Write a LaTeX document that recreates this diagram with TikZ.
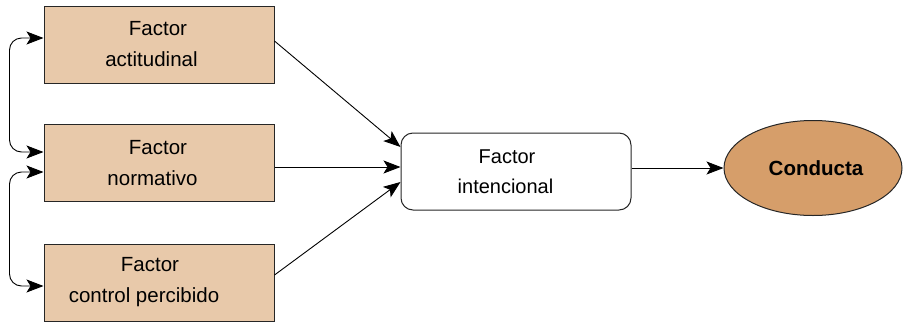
\documentclass[tikz,border=0pt]{standalone}
\usepackage{fontspec}
\setmainfont{Liberation Sans}
\usetikzlibrary{arrows.meta,shapes.geometric}
\definecolor{tan}{RGB}{232,201,170}
\definecolor{ellfill}{RGB}{214,158,106}
\newcommand{\lsh}[2]{#1\hspace*{#2}}
\begin{document}
\begin{tikzpicture}[x=1pt,y=-1pt,
  >={Stealth[length=17pt,width=13pt,inset=4pt]},
  fbox/.style={draw=black!85,line width=1pt,fill=tan,minimum width=230pt,minimum height=77pt,inner sep=0pt,align=center,font=\fontsize{20.5}{31}\selectfont},
  ibox/.style={draw=black!85,line width=1pt,fill=white,rounded corners=12pt,minimum width=230pt,minimum height=77pt,inner sep=0pt,align=center,font=\fontsize{20}{30}\selectfont},
  ellnode/.style={draw=black!85,line width=1pt,fill=ellfill,ellipse,minimum width=178pt,minimum height=95pt,inner sep=0pt,font=\fontsize{20.5}{24}\selectfont\bfseries},
  arr/.style={line width=0.9pt,->},
  darr/.style={line width=0.9pt,rounded corners=12pt,<->}]
\useasboundingbox (0,0) rectangle (903,322);
\node[fbox] (a) at (159,44.5) {\lsh{Factor}{2pt}\\\lsh{actitudinal}{15pt}};
\node[fbox] (n) at (159,163) {\lsh{Factor}{2pt}\\\lsh{normativo}{13pt}};
\node[fbox] (c) at (159,282.5) {\lsh{Factor}{18pt}\\\lsh{control percibido}{30pt}};
\node[ibox] (i) at (516,171.5) {\lsh{Factor}{18pt}\\\lsh{intencional}{21pt}};
\node[ellnode] (k) at (813,168) {\hspace*{6pt}Conducta};
\coordinate (ia) at ([yshift=24.5pt]i.west);
\coordinate (in) at ([yshift=4.5pt]i.west);
\coordinate (ic) at ([yshift=-10.5pt]i.west);
\draw[arr] ([yshift=3.5pt]a.east) -- (ia);
\draw[arr] ([yshift=-4pt]n.east) -- (in);
\draw[arr] ([yshift=7.5pt]c.east) -- (ic);
\draw[arr] ([yshift=3.5pt]i.east) -- (k.west);
\draw[darr] ([yshift=6.5pt]a.west) -- ++(-34,0) |- ([yshift=11pt]n.west);
\draw[darr] ([yshift=-9pt]n.west) -- ++(-34,0) |- ([yshift=-3.5pt]c.west);
\end{tikzpicture}
\end{document}
